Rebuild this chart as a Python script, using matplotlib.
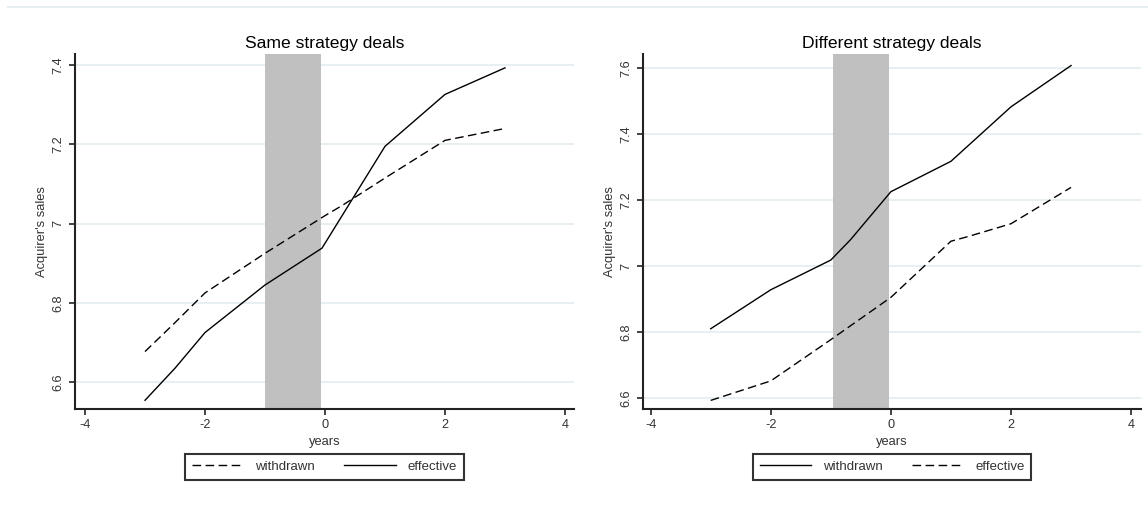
import matplotlib
matplotlib.use("Agg")
import matplotlib.pyplot as plt
from matplotlib.lines import Line2D

plt.rcParams["font.family"] = ["Liberation Sans", "DejaVu Sans"]

# Data
# Same strategy deals
same_wd_x = [-3, -2.5, -2, -1, 0, 0.3, 1, 2, 3]
same_wd_y = [6.677, 6.75, 6.825, 6.925, 7.02, 7.047, 7.115, 7.21, 7.24]
same_ef_x = [-3, -2.5, -2, -1, -0.05, 1, 2, 3]
same_ef_y = [6.554, 6.635, 6.725, 6.845, 6.938, 7.195, 7.326, 7.393]
same_band = [-1.0, -0.07]

# Different strategy deals
diff_wd_x = [-3, -2, -1, -0.67, 0, 1, 2, 3]
diff_wd_y = [6.81, 6.928, 7.018, 7.08, 7.225, 7.317, 7.482, 7.607]
diff_ef_x = [-3, -2, -1, 0, 1, 1.3, 2, 3]
diff_ef_y = [6.593, 6.652, 6.777, 6.905, 7.075, 7.09, 7.128, 7.238]
diff_band = [-0.97, -0.035]

x_ticks = [-4, -2, 0, 2, 4]
same_yticks = [6.6, 6.8, 7.0, 7.2, 7.4]
same_ylabels = ["6.6", "6.8", "7", "7.2", "7.4"]
diff_yticks = [6.6, 6.8, 7.0, 7.2, 7.4, 7.6]
diff_ylabels = ["6.6", "6.8", "7", "7.2", "7.4", "7.6"]

DASH = (0, (6.2, 3.2))
GRID = "#e6eef1"
TXT = "#333333"

fig = plt.figure(figsize=(11.48, 5.07), dpi=100)
W, H = 1148, 507

def make_ax(px0, px1, py_top, py_bot):
    return fig.add_axes([px0 / W, 1 - py_bot / H, (px1 - px0) / W, (py_bot - py_top) / H])

ax1 = make_ax(75, 574, 54, 409)
ax2 = make_ax(643, 1141, 54, 409)

panels = [
    (ax1, "Same strategy deals", same_band,
     [(same_wd_x, same_wd_y, DASH, "withdrawn"), (same_ef_x, same_ef_y, "-", "effective")],
     (-4.167, 4.15), (6.532, 7.428), same_yticks, same_ylabels),
    (ax2, "Different strategy deals", diff_band,
     [(diff_wd_x, diff_wd_y, "-", "withdrawn"), (diff_ef_x, diff_ef_y, DASH, "effective")],
     (-4.127, 4.165), (6.567, 7.642), diff_yticks, diff_ylabels),
]

for ax, title, band, series, xl, yl, yt, ytl in panels:
    ax.axvspan(band[0], band[1], color="#c0c0c0", lw=0, zorder=1)
    for xs, ys, ls, lab in series:
        ax.plot(xs, ys, color="black", lw=1.0, linestyle=ls, label=lab, zorder=3)
    ax.set_xlim(*xl)
    ax.set_ylim(*yl)
    ax.set_xticks(x_ticks)
    ax.set_xticklabels([str(v) for v in x_ticks])
    ax.set_yticks(yt)
    ax.set_yticklabels(ytl, rotation=90, va="center")
    ax.grid(axis="y", color=GRID, lw=1.3, zorder=0)
    ax.set_axisbelow(True)
    for s in ["top", "right"]:
        ax.spines[s].set_visible(False)
    for s in ["left", "bottom"]:
        ax.spines[s].set_linewidth(1.5)
        ax.spines[s].set_color("#222222")
    ax.tick_params(direction="out", length=4.5, width=1.2, color="#222222",
                   labelsize=9.2, labelcolor=TXT, pad=3)
    ax.set_title(title, fontsize=12.6, pad=4.5, color="black")
    ax.set_xlabel("years", fontsize=9.3, color=TXT, labelpad=3)
    ax.set_ylabel("Acquirer's sales", fontsize=9.3, color=TXT)
    ax.yaxis.set_label_coords(-0.055, 0.5)
    leg = ax.legend(loc="upper center", bbox_to_anchor=(0.5, -0.127), ncol=2,
                    frameon=True, fancybox=False, fontsize=9.5,
                    handlelength=3.9, handletextpad=0.9, columnspacing=2.2,
                    borderpad=0.5, borderaxespad=0)
    leg.get_frame().set_edgecolor("black")
    leg.get_frame().set_linewidth(1.5)
    for t in leg.get_texts():
        t.set_color(TXT)

# thin light rule at the top of the graph region
fig.add_artist(Line2D([8 / W, 1.0], [1 - 6.5 / H, 1 - 6.5 / H],
                      transform=fig.transFigure, color=GRID, lw=1.5))

fig.savefig("out.png", dpi=100, facecolor="white")
